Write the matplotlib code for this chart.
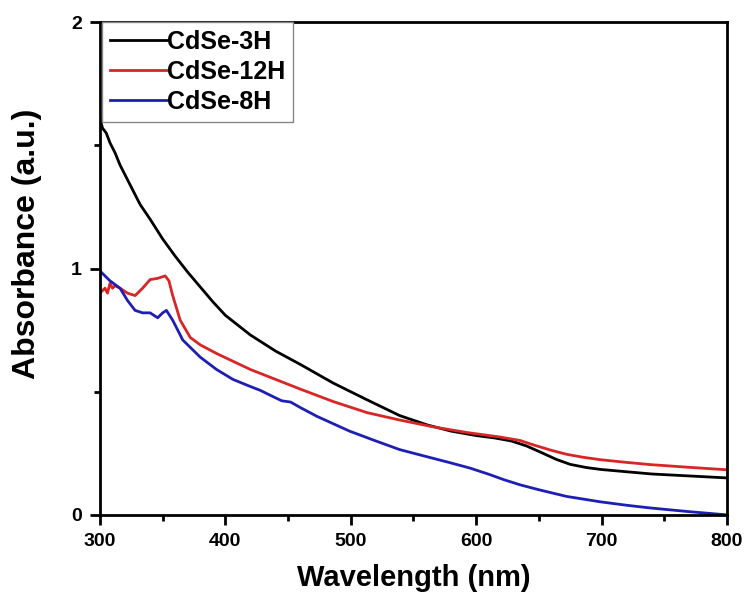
import matplotlib
matplotlib.use("Agg")
import matplotlib.pyplot as plt
from matplotlib.ticker import MultipleLocator

plt.rcParams['font.family'] = ['Liberation Sans', 'DejaVu Sans']
plt.rcParams['font.weight'] = 'bold'

# CdSe-3H (noir)
wl_3h = [300, 302, 305, 308, 312, 316, 320, 326, 332, 340, 350, 360, 370, 380, 390, 400, 420,
         440, 460, 486, 513, 539, 561, 580, 600, 615, 628, 640, 652, 664, 675, 688, 700, 720,
         740, 770, 800]
abs_3h = [1.61, 1.57, 1.55, 1.51, 1.47, 1.42, 1.38, 1.32, 1.26, 1.20, 1.12, 1.05, 0.985, 0.925,
          0.865, 0.81, 0.73, 0.665, 0.61, 0.535, 0.467, 0.403, 0.365, 0.34, 0.322, 0.312, 0.300,
          0.280, 0.253, 0.225, 0.205, 0.192, 0.184, 0.175, 0.166, 0.158, 0.150]

# CdSe-12H (rouge)
wl_12h = [300, 304, 306, 308, 310, 312, 316, 322, 328, 334, 340, 346, 352, 355, 358, 364, 372,
          380, 393, 420, 460, 486, 513, 539, 566, 593, 619, 635, 645, 660, 672, 685, 699, 720,
          739, 770, 800]
abs_12h = [0.90, 0.92, 0.90, 0.94, 0.92, 0.93, 0.92, 0.90, 0.89, 0.92, 0.955, 0.96, 0.97, 0.95,
           0.89, 0.79, 0.72, 0.69, 0.655, 0.59, 0.51, 0.46, 0.415, 0.385, 0.357, 0.334, 0.316,
           0.302, 0.285, 0.262, 0.246, 0.234, 0.224, 0.213, 0.204, 0.193, 0.183]

# CdSe-8H (bleu)
wl_8h = [300, 308, 316, 322, 328, 334, 340, 346, 350, 353, 358, 366, 380, 393, 406, 418, 428,
         438, 445, 452, 460, 473, 499, 520, 539, 560, 579, 595, 610, 622, 635, 650, 672, 699,
         720, 739, 770, 800]
abs_8h = [0.99, 0.95, 0.92, 0.87, 0.83, 0.82, 0.82, 0.80, 0.82, 0.83, 0.79, 0.71, 0.64, 0.59,
          0.55, 0.525, 0.505, 0.48, 0.463, 0.458, 0.435, 0.40, 0.34, 0.30, 0.265, 0.237, 0.212,
          0.19, 0.165, 0.143, 0.122, 0.102, 0.075, 0.053, 0.039, 0.028, 0.013, 0.0]

fig = plt.figure(figsize=(7.46, 5.98), dpi=100)
ax = fig.add_axes([0.134, 0.139, 0.8405, 0.824])

ax.plot(wl_3h, abs_3h, color='black', lw=2, label='CdSe-3H')
ax.plot(wl_12h, abs_12h, color='#d92525', lw=2, label='CdSe-12H')
ax.plot(wl_8h, abs_8h, color='#1e1eb4', lw=2, label='CdSe-8H')

ax.set_xlim(300, 800)
ax.set_ylim(0, 2)
ax.xaxis.set_major_locator(MultipleLocator(100))
ax.xaxis.set_minor_locator(MultipleLocator(50))
ax.yaxis.set_major_locator(MultipleLocator(1))
ax.yaxis.set_minor_locator(MultipleLocator(0.5))

for s in ax.spines.values():
    s.set_linewidth(2)
ax.tick_params(which='major', direction='out', length=7, width=2, labelsize=14, pad=6)
ax.tick_params(which='minor', direction='out', length=4, width=2)

ax.set_xlabel('Wavelength (nm)', fontsize=21, fontweight='bold', labelpad=10)
ax.set_ylabel('Absorbance (a.u.)', fontsize=23, fontweight='bold')
ax.yaxis.set_label_coords(-0.092, 0.55)

leg = ax.legend(loc='upper left', bbox_to_anchor=(0.004, 1.0), borderaxespad=0,
                fontsize=18, handlelength=2.3, handletextpad=0.0, labelspacing=0.25,
                fancybox=False, framealpha=1, borderpad=0.3)
leg.get_frame().set_edgecolor('#888888')
leg.get_frame().set_linewidth(1)

fig.savefig('out.png', dpi=100)
